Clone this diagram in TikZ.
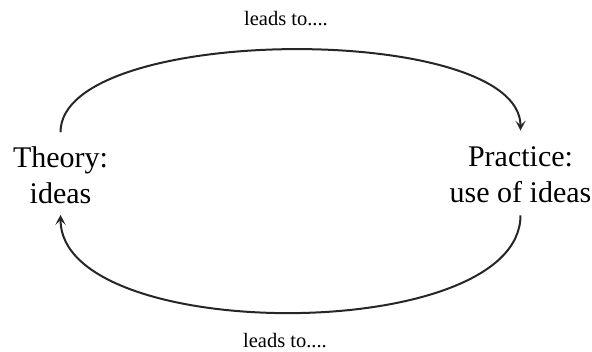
\documentclass[tikz,border=0pt]{standalone}
\usepackage{fontspec}
\setmainfont{Liberation Serif}
\usetikzlibrary{arrows.meta}
\begin{document}
\begin{tikzpicture}[x=1pt, y=-1pt, >={Stealth[length=10pt, width=10pt, inset=4.5pt]}]
    % 1. Khung hình
    \useasboundingbox (0,0) rectangle (592,351);

    % 2. Hai ý chính
    \node[align=center, font=\fontsize{30}{36}\selectfont, inner sep=0pt] (theory) at (60.5,175) {Theory:\\ideas};
    \node[align=center, font=\fontsize{30}{36}\selectfont, inner sep=0pt] (practice) at (520.5,175) {Practice:\\use of ideas};

    % 3. Hai cung mũi tên
    \draw[->, line width=2pt, black!85] ([yshift=14pt]theory.north) .. controls +(0,-109) and +(0,-109) .. ([yshift=16pt]practice.north);
    \draw[->, line width=2pt, black!85] ([yshift=-12pt]practice.south) .. controls +(0,130) and +(0,130) .. ([yshift=-11pt]theory.south);

    % 4. Nhãn trên cung
    \node[font=\fontsize{20.5}{22}\selectfont] (toplabel) at (286,19) {leads to....};
    \node[font=\fontsize{20.5}{22}\selectfont] (botlabel) at (285,341) {leads to....};
\end{tikzpicture}
\end{document}
